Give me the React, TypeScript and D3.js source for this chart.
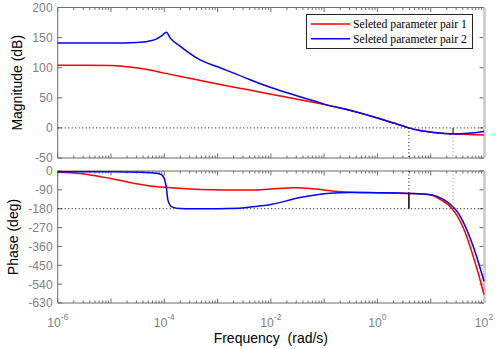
import React, { useRef, useEffect } from "react";
import * as d3 from "d3";

// frequencies (rad/s) and values
const magFreq1 = [1e-6, 3.16e-6, 1e-5, 1.78e-5, 3.16e-5, 5.37e-5, 1e-4, 3.16e-4, 1e-3, 3.16e-3, 1e-2, 3.16e-2, 1e-1, 3.16e-1, 1, 2, 3.9, 6.3, 11.2, 26.3, 50, 100];
const magRed = [104, 104, 103.5, 102, 99.5, 96, 91, 82, 73, 64.5, 56, 47.5, 39, 29, 16.5, 8, 0, -4.5, -7.5, -10, -11, -12];

const magFreq2 = [1e-6, 1e-5, 3e-5, 5e-5, 7e-5, 8.9e-5, 1.1e-4, 1.29e-4, 2e-4, 4.7e-4, 1e-3, 3.16e-3, 4.07e-3, 1e-2, 3.16e-2, 6.3e-2, 1e-1, 3.16e-1, 1, 2, 3.9, 6.3, 11.2, 26.3, 50, 100];
const magBlue = [141, 141, 142, 144, 147.5, 153, 159, 149.5, 135.5, 113, 101.5, 84, 80, 67, 53, 45, 39.5, 29, 16.5, 8, 0, -4.5, -7.5, -10, -9, -6];

const phFreq1 = [1e-6, 3.16e-6, 6.3e-6, 1e-5, 2.63e-5, 5e-5, 1e-4, 4.7e-4, 4.07e-3, 1e-2, 2.63e-2, 6.3e-2, 2e-1, 1, 3.9, 10, 12.6, 15.8, 20, 25.1, 31.6, 39.8, 50.1, 63.1, 79.4, 100];
const phRed = [-6, -14, -27, -36, -59, -70, -78, -88, -91, -86, -80, -85, -99, -104, -107, -114, -124, -139, -156, -180, -215, -265, -330, -410, -495, -590];

const phFreq2 = [1e-6, 1e-5, 3.47e-5, 6.3e-5, 8.3e-5, 9.5e-5, 1.02e-4, 1.1e-4, 1.17e-4, 1.38e-4, 2e-4, 3.16e-4, 1e-3, 2.5e-3, 4.07e-3, 1e-2, 3.5e-2, 1.3e-1, 3e-1, 1, 3.9, 10, 12.6, 15.8, 20, 26.3, 31.6, 39.8, 50.1, 63.1, 79.4, 100];
const phBlue = [-3, -3, -6, -10, -14, -25, -43, -83, -139, -171, -179, -180, -180, -178, -172, -160, -127, -106, -103, -104, -107, -113, -120, -131, -146, -172, -195, -238, -295, -362, -440, -526];

const magTicks = [-50, 0, 50, 100, 150, 200];
const phaseTicks = [0, -90, -180, -270, -360, -450, -540, -630];
const freqLabelExps = [-6, -4, -2, 0, 2];

const wcFreq = 3.9; // gain crossover
const wpFreq = 26.3; // phase crossover

const seriesNames = ["Seleted parameter pair 1", "Seleted parameter pair 2"];
const colors = ["#ff0000", "#0000ff"];

const App = () => {
  const svgRef = useRef<SVGSVGElement>(null);

  useEffect(() => {
    const svg = d3.select(svgRef.current);
    svg.selectAll("*").remove();

    const left = 57.7;
    const right = 484;
    const x = d3.scaleLog().domain([1e-6, 1e2]).range([left, right]);
    const yMag = d3.scaleLinear().domain([-50, 200]).range([158, 7.5]);
    const yPh = d3.scaleLinear().domain([-630, 0]).range([303, 171]);

    const axisColor = "#6a6a6a";
    const labelColor = "#7f7f7f";
    const sans = "Liberation Sans, Arial, sans-serif";

    // log ticks
    const majors = d3.range(-6, 3).map((e) => Math.pow(10, e));
    const minors: number[] = [];
    majors.slice(0, -1).forEach((m) => {
      for (let k = 2; k <= 9; k++) minors.push(m * k);
    });

    const drawPanel = (yScale: d3.ScaleLinear<number, number>, yTicks: number[]) => {
      const [y0, y1] = yScale.range(); // bottom, top
      const g = svg.append("g");

      // x ticks (bottom and top, inward)
      majors.forEach((f) => {
        g.append("line").attr("x1", x(f)).attr("x2", x(f)).attr("y1", y0).attr("y2", y0 - 4.5).attr("stroke", axisColor);
        g.append("line").attr("x1", x(f)).attr("x2", x(f)).attr("y1", y1).attr("y2", y1 + 4.5).attr("stroke", axisColor);
      });
      minors.forEach((f) => {
        g.append("line").attr("x1", x(f)).attr("x2", x(f)).attr("y1", y0).attr("y2", y0 - 2.5).attr("stroke", axisColor);
        g.append("line").attr("x1", x(f)).attr("x2", x(f)).attr("y1", y1).attr("y2", y1 + 2.5).attr("stroke", axisColor);
      });

      // y ticks and labels
      yTicks.forEach((t) => {
        g.append("line").attr("x1", left).attr("x2", left + 4.5).attr("y1", yScale(t)).attr("y2", yScale(t)).attr("stroke", axisColor);
        g.append("line").attr("x1", right - 4.5).attr("x2", right).attr("y1", yScale(t)).attr("y2", yScale(t)).attr("stroke", axisColor);
        g.append("text")
          .attr("x", left - 5)
          .attr("y", yScale(t))
          .attr("dy", "0.36em")
          .attr("text-anchor", "end")
          .attr("font-family", sans)
          .attr("font-size", 12.2)
          .attr("fill", labelColor)
          .text(t);
      });

      // box
      g.append("line").attr("x1", left).attr("x2", right).attr("y1", y0).attr("y2", y0).attr("stroke", axisColor);
      g.append("line").attr("x1", left).attr("x2", right).attr("y1", y1).attr("y2", y1).attr("stroke", axisColor);
      g.append("line").attr("x1", left).attr("x2", left).attr("y1", y0).attr("y2", y1).attr("stroke", axisColor);
      g.append("line").attr("x1", right + 0.5).attr("x2", right + 0.5).attr("y1", y0).attr("y2", y1).attr("stroke", "#c9c9c9").attr("stroke-width", 2.5);
    };

    drawPanel(yMag, magTicks);
    drawPanel(yPh, phaseTicks);

    const dotted = (x1: number, x2: number, y1: number, y2: number, color = "#000") =>
      svg.append("line").attr("x1", x1).attr("x2", x2).attr("y1", y1).attr("y2", y2)
        .attr("stroke", color).attr("stroke-width", 1).attr("stroke-dasharray", "1,2.5");

    // reference lines
    dotted(left, right, yMag(0), yMag(0));
    dotted(left, right, yPh(-180), yPh(-180));

    const line = (yScale: d3.ScaleLinear<number, number>) =>
      d3.line<[number, number]>()
        .x((d) => x(d[0]))
        .y((d) => yScale(d[1]))
        .curve(d3.curveMonotoneX);

    const magSeries = [
      magFreq1.map((f, i) => [f, magRed[i]] as [number, number]),
      magFreq2.map((f, i) => [f, magBlue[i]] as [number, number]),
    ];
    const phSeries = [
      phFreq1.map((f, i) => [f, phRed[i]] as [number, number]),
      phFreq2.map((f, i) => [f, phBlue[i]] as [number, number]),
    ];

    magSeries.forEach((s, i) => {
      svg.append("path").attr("d", line(yMag)(s)).attr("fill", "none").attr("stroke", colors[i]).attr("stroke-width", 1.5);
    });
    phSeries.forEach((s, i) => {
      svg.append("path").attr("d", line(yPh)(s)).attr("fill", "none").attr("stroke", colors[i]).attr("stroke-width", 1.5);
    });

    // margin markers
    const phAtWc = -107;
    const magAtWp = -10;
    dotted(x(wcFreq), x(wcFreq), yMag(0), yMag(-50));
    dotted(x(wcFreq), x(wcFreq), yPh(0), yPh(phAtWc));
    svg.append("line").attr("x1", x(wcFreq)).attr("x2", x(wcFreq)).attr("y1", yPh(-180)).attr("y2", yPh(phAtWc)).attr("stroke", "#000").attr("stroke-width", 1.5);
    dotted(x(wpFreq), x(wpFreq), yMag(magAtWp), yMag(-50), "#888");
    svg.append("line").attr("x1", x(wpFreq)).attr("x2", x(wpFreq)).attr("y1", yMag(0)).attr("y2", yMag(magAtWp)).attr("stroke", "#000").attr("stroke-width", 1);
    dotted(x(wpFreq), x(wpFreq), yPh(0), yPh(-180), "#888");

    // x tick labels
    freqLabelExps.forEach((e) => {
      const t = svg.append("text")
        .attr("x", x(Math.pow(10, e)))
        .attr("y", 327)
        .attr("text-anchor", "middle")
        .attr("font-family", sans)
        .attr("font-size", 12.2)
        .attr("fill", labelColor);
      t.append("tspan").text("10");
      t.append("tspan").attr("dy", -7).attr("font-size", 8.5).text(e);
    });

    // axis labels
    svg.append("text")
      .attr("transform", `translate(22,${(yMag(200) + yMag(-50)) / 2}) rotate(-90)`)
      .attr("text-anchor", "middle")
      .attr("font-family", sans)
      .attr("font-size", 14)
      .attr("fill", "#000")
      .text("Magnitude (dB)");
    svg.append("text")
      .attr("transform", `translate(18,${(yPh(0) + yPh(-630)) / 2}) rotate(-90)`)
      .attr("text-anchor", "middle")
      .attr("font-family", sans)
      .attr("font-size", 14)
      .attr("fill", "#000")
      .text("Phase (deg)");
    svg.append("text")
      .attr("x", (left + right) / 2)
      .attr("y", 343)
      .attr("text-anchor", "middle")
      .attr("font-family", sans)
      .attr("font-size", 14)
      .attr("fill", "#000")
      .style("white-space", "pre")
      .text("Frequency  (rad/s)");

    // legend
    const lg = svg.append("g");
    lg.append("rect").attr("x", 306.5).attr("y", 14.5).attr("width", 166).attr("height", 34)
      .attr("fill", "#fff").attr("stroke", "#262626").attr("stroke-width", 1);
    seriesNames.forEach((n, i) => {
      const yy = 24 + i * 14.7;
      lg.append("line").attr("x1", 311).attr("x2", 350).attr("y1", yy).attr("y2", yy).attr("stroke", colors[i]).attr("stroke-width", 1.5);
      lg.append("text").attr("x", 353).attr("y", yy).attr("dy", "0.33em")
        .attr("font-family", "'Liberation Serif', 'Times New Roman', serif")
        .attr("font-size", 11.7).attr("fill", "#000").text(n);
    });
  }, []);

  return (
    <svg
      ref={svgRef}
      width={501}
      height={349}
      style={{ position: "absolute", left: 0, top: 0, background: "#fff" }}
    />
  );
};

export default App;
